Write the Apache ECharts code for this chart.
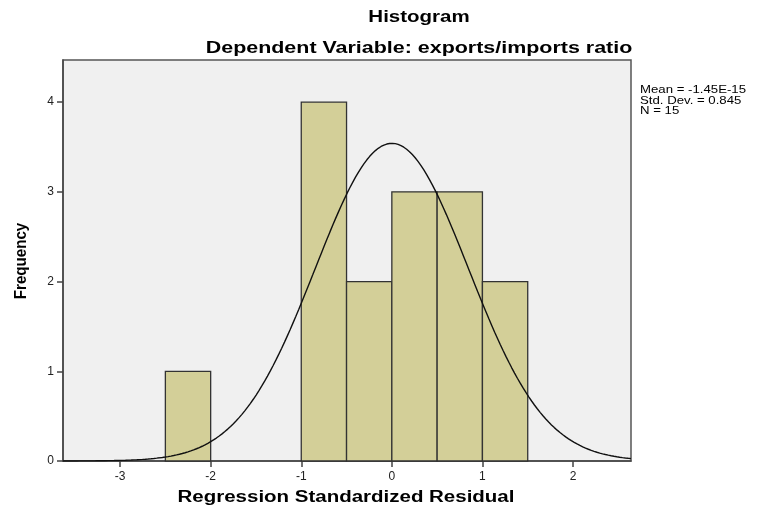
<!DOCTYPE html>
<html>
<head>
<meta charset="utf-8">
<script src="https://cdn.jsdelivr.net/npm/echarts@6/dist/echarts.min.js"></script>
<style>
  html, body { margin: 0; padding: 0; background: #fff; }
  #chart { width: 757px; height: 515px; }
</style>
</head>
<body>
<div id="chart"></div>
<script>
// histogram bins: [start, end, frequency]
var binStarts = [-2.5, -1.0, -0.5, 0.0, 0.5, 1.0];
var binEnds = [-2.0, -0.5, 0.0, 0.5, 1.0, 1.5];
var frequencies = [1, 4, 2, 3, 3, 2];
var xTicks = [-3, -2, -1, 0, 1, 2];
var yTicks = [0, 1, 2, 3, 4];

// summary stats printed on the chart, the normal curve uses them
var mean = 0;
var stdDev = 0.845;
var n = 15;
var binWidth = 0.5;
var xMin = -3.63, xMax = 2.64;

var bars = binStarts.map(function (s, i) { return [s, binEnds[i], frequencies[i]]; });

var curve = [];
for (var k = 0; k <= 200; k++) {
  var x = xMin + (xMax - xMin) * k / 200;
  var z = (x - mean) / stdDev;
  curve.push([x, n * binWidth / (stdDev * Math.sqrt(2 * Math.PI)) * Math.exp(-0.5 * z * z)]);
}

var chart = echarts.init(document.getElementById("chart"));
var font = "'Liberation Sans', Arial, sans-serif";

// the original picture is a bit stretched sideways, so texts get a scaleX
function label(text, x, y, size, sx, extra) {
  var el = {
    type: "text",
    x: x, y: y,
    scaleX: sx,
    style: {
      text: text,
      font: "bold " + size + "px " + font,
      fill: "#000",
      align: "center",
      verticalAlign: "middle"
    }
  };
  return Object.assign(el, extra || {});
}

chart.setOption({
  animation: false,
  textStyle: { fontFamily: font },
  graphic: [
    label("Histogram", 419, 18, 16, 1.28),
    label("Dependent Variable: exports/imports ratio", 419, 49, 16, 1.34),
    label("Regression Standardized Residual", 346, 498, 16, 1.28),
    label("Frequency", 22, 261, 14, 1.08, { rotation: Math.PI / 2, scaleY: 1.15 }),
    {
      type: "text",
      x: 640, y: 85,
      scaleX: 1.2,
      style: {
        text: "Mean = -1.45E-15\nStd. Dev. = 0.845\nN = 15",
        font: "11px " + font,
        lineHeight: 10.5,
        fill: "#000"
      }
    }
  ],
  grid: {
    left: 63, right: 126, top: 60, bottom: 54,
    show: true, backgroundColor: "#f0f0f0",
    borderColor: "#555", borderWidth: 1.5
  },
  xAxis: {
    type: "value",
    min: xMin, max: xMax,
    axisLine: { show: true, onZero: false, lineStyle: { color: "#444", width: 1.5 } },
    axisTick: { show: true, customValues: xTicks, length: 6, lineStyle: { color: "#444", width: 1.5 } },
    axisLabel: { customValues: xTicks, color: "#222", fontSize: 12, margin: 10 },
    splitLine: { show: false }
  },
  yAxis: {
    type: "value",
    min: 0, max: 4.47,
    axisLine: { show: true, onZero: false, lineStyle: { color: "#444", width: 1.5 } },
    axisTick: { show: true, customValues: yTicks, length: 6, lineStyle: { color: "#444", width: 1.5 } },
    axisLabel: { customValues: yTicks, color: "#222", fontSize: 12, margin: 9 },
    splitLine: { show: false }
  },
  series: [
    {
      type: "custom",
      data: bars,
      renderItem: function (params, api) {
        var p0 = api.coord([api.value(0), api.value(2)]);
        var p1 = api.coord([api.value(1), 0]);
        return {
          type: "rect",
          shape: { x: p0[0], y: p0[1], width: p1[0] - p0[0], height: p1[1] - p0[1] },
          style: { fill: "#d3cf98", stroke: "#333", lineWidth: 1.3 }
        };
      },
      z: 2
    },
    {
      type: "line",
      data: curve,
      showSymbol: false,
      lineStyle: { color: "#111", width: 1.4 },
      z: 3
    }
  ]
});
</script>
</body>
</html>
